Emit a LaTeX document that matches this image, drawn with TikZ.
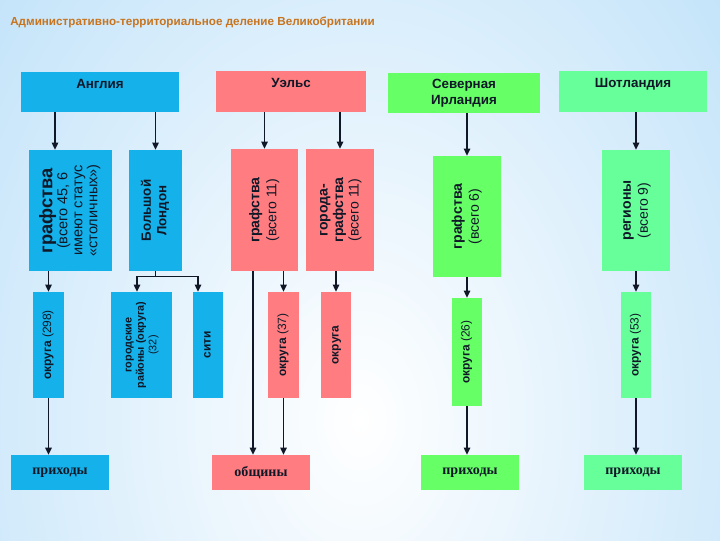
\documentclass[tikz,border=0pt]{standalone}
\usepackage{fontspec}
\setmainfont{Liberation Sans}
\newfontfamily\footfont{Liberation Serif}
\usepackage{graphicx}
\usetikzlibrary{arrows.meta, calc}
\definecolor{UKcyan}{HTML}{14B1EA}
\definecolor{UKsalmon}{HTML}{FF7C80}
\definecolor{UKgreen}{HTML}{66FF66}
\definecolor{UKmint}{HTML}{66FF99}
\definecolor{UKsky}{HTML}{A6D6F7}
\definecolor{UKtitle}{HTML}{C8741E}
\definecolor{UKink}{HTML}{101828}
\newcommand{\uprot}[1]{\rotatebox{90}{\begin{tabular}{@{}c@{}}#1\end{tabular}}}
\newcommand{\lite}[1]{{\mdseries #1}}
\tikzset{
   unit/.style={inner sep=0pt, text=UKink, align=center,
      font=\bfseries\fontsize{9.5}{11}\selectfont},
   head/.style={unit, text depth=12pt},
   low/.style={unit, font=\bfseries\fontsize{8.5}{9.5}\selectfont,
      minimum height=2.65cm},
   foot/.style={unit, font=\footfont\bfseries\fontsize{10}{12}\selectfont,
      minimum width=2.45cm, minimum height=0.875cm},
   wire/.style={line width=1.1pt, UKink},
   link/.style={wire, -{Triangle[length=5pt, width=4.5pt]}}
}

\begin{document}
\begin{tikzpicture}[x=0.025cm, y=-0.025cm]
   \useasboundingbox (0,0) rectangle (720,540);
   % Background
   \begin{scope}
      \clip (0,0) rectangle (720,540);
      \shade[inner color=white, outer color=UKsky] (-360,-580) rectangle (1080,1420);
   \end{scope}
   \node[anchor=west, inner sep=0pt, text=UKtitle,
      font=\bfseries\fontsize{8.3}{10}\selectfont] (title) at (10,22)
      {Административно-территориальное деление Великобритании};
   % Countries
   \node[head, fill=UKcyan, minimum width=3.95cm, minimum height=1cm] (eng) at (100,92) {Англия};
   \node[head, fill=UKsalmon, minimum width=3.75cm, minimum height=1.025cm] (wal) at (291,91.5) {Уэльс};
   \node[unit, fill=UKgreen, minimum width=3.8cm, minimum height=1cm] (nir) at (464,93) {Северная\\Ирландия};
   \node[head, fill=UKmint, minimum width=3.7cm, minimum height=1.025cm] (sco) at (633,91.5) {Шотландия};
   % Counties and regions
   \node[unit, fill=UKcyan, minimum width=2.075cm, minimum height=3.025cm,
      font=\bfseries\fontsize{10.3}{10.6}\selectfont] (engCty) at (70.5,210.5)
      {\uprot{{\fontsize{13}{14}\selectfont графства}\\ \lite{(всего 45, 6}\\ \lite{имеют статус}\\ \lite{«столичных»)}}};
   \node[unit, fill=UKcyan, minimum width=1.325cm, minimum height=3.025cm] (lon) at (155.5,210.5)
      {\uprot{Большой\\Лондон}};
   \node[unit, fill=UKsalmon, minimum width=1.675cm, minimum height=3.05cm,
      font=\bfseries\fontsize{10}{12}\selectfont] (walCty) at (264.5,210)
      {\uprot{графства\\ \lite{(всего 11)}}};
   \node[unit, fill=UKsalmon, minimum width=1.7cm, minimum height=3.05cm,
      font=\bfseries\fontsize{10}{11}\selectfont] (walCit) at (340,210)
      {\uprot{города-\\графства\\ \lite{(всего 11)}}};
   \node[unit, fill=UKgreen, minimum width=1.7cm, minimum height=3.025cm,
      font=\bfseries\fontsize{10}{12}\selectfont] (nirCty) at (467,216.5)
      {\uprot{графства\\ \lite{(всего 6)}}};
   \node[unit, fill=UKmint, minimum width=1.7cm, minimum height=3.025cm,
      font=\bfseries\fontsize{10}{12}\selectfont] (scoReg) at (636,210.5)
      {\uprot{регионы\\ \lite{(всего 9)}}};
   % Districts
   \node[low, fill=UKcyan, minimum width=0.775cm] (dist298) at (48.5,345) {\uprot{округа \lite{(298)}}};
   \node[low, fill=UKcyan, minimum width=1.525cm,
      font=\bfseries\fontsize{7.7}{8.8}\selectfont] (bor32) at (141.5,345)
      {\uprot{городские\\районы (округа)\\ \lite{(32)}}};
   \node[low, fill=UKcyan, minimum width=0.75cm] (city) at (208,345) {\uprot{сити}};
   \node[low, fill=UKsalmon, minimum width=0.775cm] (walD37) at (283.5,345) {\uprot{округа \lite{(37)}}};
   \node[low, fill=UKsalmon, minimum width=0.75cm] (walD) at (336,345) {\uprot{округа}};
   \node[low, fill=UKgreen, minimum width=0.75cm, minimum height=2.7cm] (nirD26) at (467,352) {\uprot{округа \lite{(26)}}};
   \node[low, fill=UKmint, minimum width=0.75cm] (scoD53) at (636,345) {\uprot{округа \lite{(53)}}};
   % Parishes and communities
   \node[foot, fill=UKcyan] (engPar) at (60,472.5) {приходы};
   \node[foot, fill=UKsalmon] (comm) at (261,472.5) {общины};
   \node[foot, fill=UKgreen] (nirPar) at (470,472.5) {приходы};
   \node[foot, fill=UKmint] (scoPar) at (633,472.5) {приходы};
   % Connectors: England
   \draw[link] ($(eng.south)+(-45,0)$) coordinate (engJ) -- (engJ |- engCty.north);
   \draw[link] (eng.south -| lon.north) -- (lon.north);
   \draw[link] (engCty.south -| dist298.north) -- (dist298.north);
   \draw[wire] (lon.south) -- ++(0,5) coordinate (lonJ);
   \draw[wire] ($(lonJ -| bor32.north)+(-4.5,0)$) coordinate (borJ)
      -- ($(lonJ -| city.north)+(-10,0)$) coordinate (cityJ);
   \draw[link] (borJ) -- (borJ |- bor32.north);
   \draw[link] (cityJ) -- (cityJ |- city.north);
   \draw[link] (dist298.south) -- (dist298.south |- engPar.north);
   % Connectors: Wales
   \draw[link] (wal.south -| walCty.north) -- (walCty.north);
   \draw[link] (wal.south -| walCit.north) -- (walCit.north);
   \draw[link] ($(walCty.south)+(-11.5,0)$) coordinate (walJ) -- (walJ |- comm.north);
   \draw[link] (walCty.south -| walD37.north) -- (walD37.north);
   \draw[link] (walCit.south -| walD.north) -- (walD.north);
   \draw[link] (walD37.south) -- (walD37.south |- comm.north);
   % Connectors: Northern Ireland and Scotland
   \draw[link] (nir.south -| nirCty.north) -- (nirCty.north);
   \draw[link] (nirCty.south -| nirD26.north) -- (nirD26.north);
   \draw[link] (nirD26.south) -- (nirD26.south |- nirPar.north);
   \draw[link] (sco.south -| scoReg.north) -- (scoReg.north);
   \draw[link] (scoReg.south -| scoD53.north) -- (scoD53.north);
   \draw[link] (scoD53.south) -- (scoD53.south |- scoPar.north);
\end{tikzpicture}
\end{document}
